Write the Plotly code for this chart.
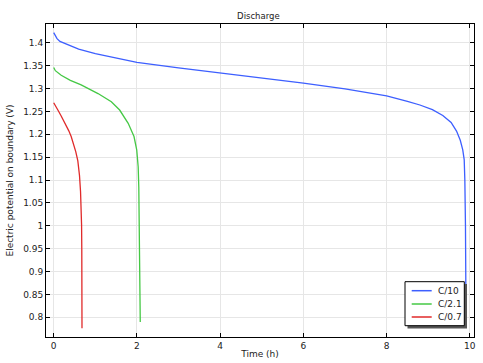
import plotly.graph_objects as go

t_c10 = [0, 0.03, 0.08, 0.15, 0.3, 0.6, 1.0, 1.5, 2.0, 3.0, 4.0, 5.0, 6.0, 7.0, 8.0, 8.5, 8.8, 9.1, 9.35, 9.55, 9.68, 9.77, 9.83, 9.865, 9.88, 9.895, 9.91]
v_c10 = [1.422, 1.416, 1.409, 1.403, 1.397, 1.386, 1.376, 1.366, 1.357, 1.345, 1.334, 1.323, 1.312, 1.299, 1.284, 1.272, 1.264, 1.254, 1.241, 1.226, 1.207, 1.187, 1.166, 1.144, 1.10, 1.00, 0.78]

t_c21 = [0, 0.04, 0.18, 0.4, 0.66, 1.065, 1.385, 1.585, 1.79, 1.93, 1.995, 2.03, 2.045, 2.06, 2.07, 2.08]
v_c21 = [1.346, 1.339, 1.329, 1.318, 1.308, 1.289, 1.271, 1.253, 1.224, 1.195, 1.166, 1.129, 1.085, 1.00, 0.90, 0.79]

t_c07 = [0, 0.03, 0.1, 0.18, 0.28, 0.36, 0.42, 0.48, 0.53, 0.58, 0.62, 0.645, 0.66, 0.67, 0.675, 0.68]
v_c07 = [1.269, 1.263, 1.253, 1.240, 1.224, 1.208, 1.195, 1.178, 1.162, 1.142, 1.110, 1.075, 1.045, 1.002, 0.95, 0.776]

names = ["C/10", "C/2.1", "C/0.7"]
colors = ["#3d5fff", "#45c845", "#e02a2a"]

fig = go.Figure()
for t, v, n, c in zip([t_c10, t_c21, t_c07], [v_c10, v_c21, v_c07], names, colors):
    fig.add_trace(go.Scatter(x=t, y=v, mode="lines", name=n, showlegend=False,
                             line=dict(color=c, width=1.3)))

axis_common = dict(showline=True, linecolor="black", linewidth=1, mirror="ticks",
                   ticks="inside", ticklen=4, tickcolor="black", automargin=False,
                   showgrid=True, gridcolor="#e6e6e6", gridwidth=1, zeroline=False,
                   tickfont=dict(size=9, color="#222"))

# legend box (paper coords), with drop shadow
L_W, L_H = 428.0, 313.0
def px(x):
    return (x - 46) / L_W
def py(y):
    return (337 - y) / L_H

fig.add_shape(type="rect", xref="paper", yref="paper",
              x0=px(407.5), x1=px(467), y0=py(328.5), y1=py(284),
              fillcolor="#555", line=dict(width=0), layer="above")
fig.add_shape(type="rect", xref="paper", yref="paper",
              x0=px(405), x1=px(464.3), y0=py(325.7), y1=py(281.7),
              fillcolor="white", line=dict(color="black", width=1), layer="above")
rows = [290.7, 304, 317]
for n, c, ry in zip(names, colors, rows):
    fig.add_shape(type="line", xref="paper", yref="paper",
                  x0=px(411.7), x1=px(431.7), y0=py(ry), y1=py(ry),
                  line=dict(color=c, width=1.5), layer="above")
    fig.add_annotation(xref="paper", yref="paper", x=px(435.5), y=py(ry),
                       text=n, showarrow=False, xanchor="left", yanchor="middle",
                       font=dict(size=9, color="#222"))

fig.update_layout(
    width=483, height=363,
    margin=dict(l=46, r=9, t=24, b=26),
    paper_bgcolor="white", plot_bgcolor="white",
    font=dict(family="DejaVu Sans, sans-serif", size=9, color="#222"),
    title=dict(text="Discharge", x=0.535, xanchor="center", y=0.955, yanchor="middle",
               font=dict(size=8.5)),
    xaxis=dict(range=[-0.185, 10.1], tickvals=[0, 2, 4, 6, 8, 10],
               title=dict(text="Time (h)", standoff=0, font=dict(size=9)), **axis_common),
    yaxis=dict(range=[0.757, 1.441],
               tickvals=[0.8, 0.85, 0.9, 0.95, 1.0, 1.05, 1.1, 1.15, 1.2, 1.25, 1.3, 1.35, 1.4],
               ticktext=["0.8", "0.85", "0.9", "0.95", "1", "1.05", "1.1", "1.15", "1.2", "1.25", "1.3", "1.35", "1.4"],
               title=dict(text="Electric potential on boundary (V)", standoff=8, font=dict(size=9)),
               **axis_common),
    showlegend=False,
)

fig.write_html("out.html", config={"displayModeBar": False},
               post_script="document.body.style.margin='0';document.body.style.overflow='hidden';")
